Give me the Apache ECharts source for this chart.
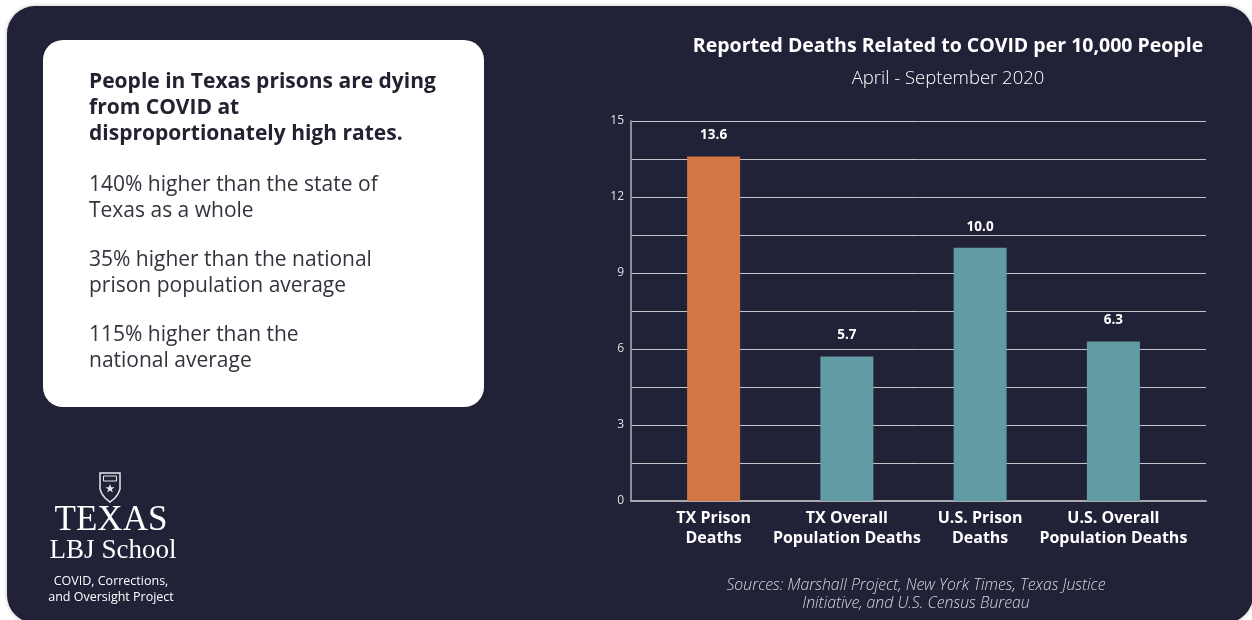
<!DOCTYPE html>
<html><head><meta charset="utf-8">
<script src="https://cdn.jsdelivr.net/npm/echarts@6/dist/echarts.min.js"></script>
<style>html,body{margin:0;padding:0;background:#fff;}#c{width:1252px;height:620px;}</style>
</head><body><div id="c"></div>
<script>
const categories = ['TX Prison\nDeaths', 'TX Overall\nPopulation Deaths', 'U.S. Prison\nDeaths', 'U.S. Overall\nPopulation Deaths'];
const values = [13.6, 5.7, 10.0, 6.3];
const barColors = ['#D37744', '#619CA5', '#619CA5', '#619CA5'];
const yTicks = [0, 3, 6, 9, 12, 15];
const chartTitle = 'Reported Deaths Related to COVID per 10,000 People';
const chartSubtitle = 'April - September 2020';
const cardTitle = ['People in Texas prisons are dying', 'from COVID at', 'disproportionately high rates.'];
const cardLines = [['140% higher than the state of', 'Texas as a whole'], ['35% higher than the national', 'prison population average'], ['115% higher than the', 'national average']];
const sources = ['Sources: Marshall Project, New York Times, Texas Justice', 'Initiative, and U.S. Census Bureau'];

const BG = '#212137';
const font = '"Open Sans", "Noto Sans", sans-serif';
const chart = echarts.init(document.getElementById('c'), null, {renderer: 'canvas'});

const graphics = [
  {type: 'rect', z: -10, shape: {x: 7, y: 6, width: 1246, height: 617, r: 28}, style: {fill: BG, shadowBlur: 4, shadowColor: 'rgba(0,0,0,0.25)'}},
  {type: 'rect', z: -5, shape: {x: 43, y: 40, width: 441, height: 367, r: 20}, style: {fill: '#ffffff'}},
  {type: 'text', style: {text: chartTitle, x: 948, y: 46, align: 'center', verticalAlign: 'middle', fill: '#fff', font: 'bold 19.5px ' + font}},
  {type: 'text', style: {text: chartSubtitle, x: 948, y: 79, align: 'center', verticalAlign: 'middle', fill: '#fff', font: '300 18.5px ' + font}},
];
cardTitle.forEach((t, i) => graphics.push({type: 'text', style: {text: t, x: 89, y: 82 + i * 26, verticalAlign: 'middle', fill: '#222230', font: 'bold 21px ' + font}}));
cardLines.forEach((pair, j) => pair.forEach((t, i) => graphics.push({type: 'text', style: {text: t, x: 89, y: 185 + j * 75 + i * 26, verticalAlign: 'middle', fill: '#33333d', font: '21px ' + font}})));
sources.forEach((t, i) => graphics.push({type: 'text', style: {text: t, x: 916, y: 585 + i * 18, align: 'center', verticalAlign: 'middle', fill: '#d8d8de', font: 'italic 300 15.8px ' + font}}));
// logo (shield)
graphics.push({type: 'polygon', shape: {points: [[100,473],[120,473],[120,489],[118,494],[115,498],[110,502],[105,498],[102,494],[100,489]]}, style: {fill: 'none', stroke: '#e8e8ee', lineWidth: 1.5}});
graphics.push({type: 'rect', shape: {x: 103.5, y: 476, width: 13, height: 5}, style: {fill: 'none', stroke: '#e8e8ee', lineWidth: 1}});
graphics.push({type: 'polygon', shape: {points: [[110,484],[111.2,487.3],[114.6,487.3],[111.8,489.3],[112.8,492.6],[110,490.6],[107.2,492.6],[108.2,489.3],[105.4,487.3],[108.8,487.3]]}, style: {fill: '#e8e8ee'}});
graphics.push({type: 'text', style: {text: 'TEXAS', x: 111, y: 521, align: 'center', verticalAlign: 'middle', fill: '#fff', font: '35px "Liberation Serif", "DejaVu Serif", serif'}});
graphics.push({type: 'text', style: {text: 'LBJ School', x: 113, y: 551, align: 'center', verticalAlign: 'middle', fill: '#fff', font: '27px "Liberation Serif", "DejaVu Serif", serif'}});
graphics.push({type: 'text', style: {text: 'COVID, Corrections,', x: 111, y: 581, align: 'center', verticalAlign: 'middle', fill: '#fff', font: '12.5px ' + font}});
graphics.push({type: 'text', style: {text: 'and Oversight Project', x: 111, y: 597, align: 'center', verticalAlign: 'middle', fill: '#fff', font: '12.5px ' + font}});

const option = {
  backgroundColor: '#ffffff',
  animation: false,
  graphic: {elements: graphics},
  grid: [
    {left: 631, right: 46, top: 121, bottom: 119},
    {left: 647, width: 533, top: 121, bottom: 119}
  ],
  xAxis: [
    {type: 'category', gridIndex: 0, data: categories, axisLabel: {show: false}, axisTick: {show: false}, axisLine: {show: true, lineStyle: {color: '#a9a9b0', width: 2}}},
    {type: 'category', gridIndex: 1, data: categories, axisTick: {show: false}, axisLine: {show: false},
     axisLabel: {color: '#fff', fontFamily: font, fontWeight: 'bold', fontSize: 16, lineHeight: 20, margin: 7, interval: 0}}
  ],
  yAxis: [
    {type: 'value', gridIndex: 0, min: 0, max: 15, interval: 1.5,
     axisLine: {show: true, lineStyle: {color: '#8d8d96', width: 2}}, axisTick: {show: false},
     splitLine: {lineStyle: {color: '#c4c4ca', width: 1}},
     axisLabel: {color: '#e0e0e6', fontFamily: font, fontSize: 12, margin: 7,
       formatter: v => yTicks.indexOf(Math.round(v * 10) / 10) >= 0 ? String(Math.round(v)) : ''}},
    {type: 'value', gridIndex: 1, min: 0, max: 15, show: false, splitLine: {show: false}}
  ],
  series: [{
    type: 'bar', xAxisIndex: 1, yAxisIndex: 1, barWidth: 53,
    data: values.map((v, i) => ({value: v, itemStyle: {color: barColors[i]}})),
    label: {show: true, position: 'top', distance: 14, color: '#fff', fontFamily: font, fontWeight: 'bold', fontSize: 13.5,
      formatter: p => p.value.toFixed(1)},
    z: 3
  }]
};
chart.setOption(option);
</script></body></html>
